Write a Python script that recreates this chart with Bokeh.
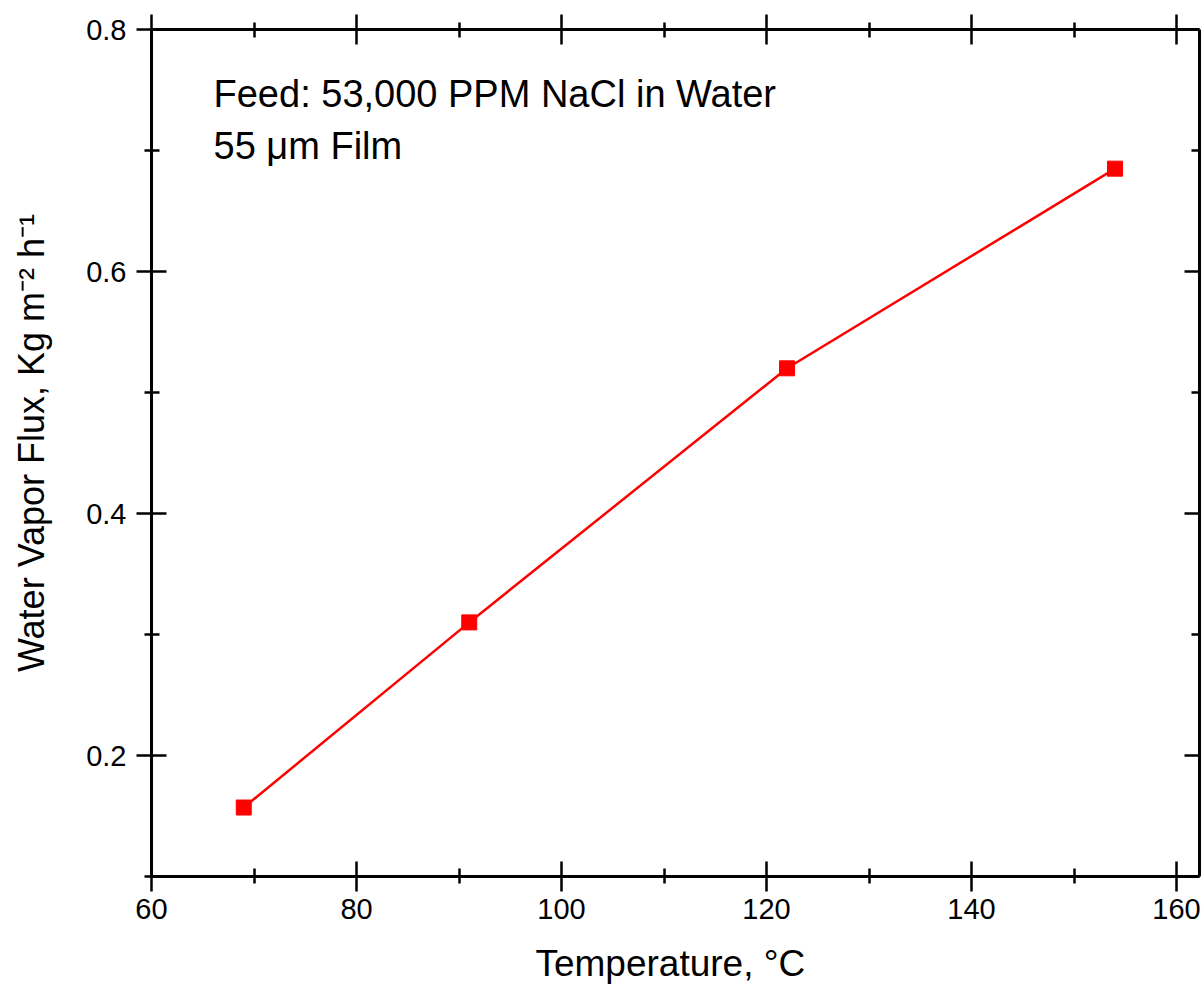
from bokeh.plotting import figure
from bokeh.models import LinearAxis, FixedTicker, CustomJSTickFormatter, Label, Range1d
from bokeh.embed import file_html
from bokeh.resources import INLINE

# Data
temperature = [69, 91, 122, 154]
flux = [0.157, 0.310, 0.520, 0.685]

x_major = [60, 80, 100, 120, 140, 160]
x_minor = [70, 90, 110, 130, 150]
y_major = [0.2, 0.4, 0.6, 0.8]
y_minor = [0.1, 0.3, 0.5, 0.7]

x_label = "Temperature, °C"
y_label = "Water Vapor Flux, Kg m\u207b\u00b2 h\u207b\u00b9"
note1 = "Feed: 53,000 PPM NaCl in Water"
note2 = "55 \u03bcm Film"

FONT = "Liberation Sans"
NBSP = "\u00a0"

p = figure(width=1201, height=993, output_backend="svg", toolbar_location=None,
           x_range=Range1d(60, 162.24), y_range=Range1d(0.1, 0.8),
           min_border_left=151, min_border_top=29, min_border_right=2, min_border_bottom=117,
           x_axis_location=None, y_axis_location=None)
p.grid.visible = False
p.outline_line_color = None
p.background_fill_color = "white"
p.border_fill_color = "white"

blank = CustomJSTickFormatter(code="return ''")


def style(ax, labels=True, tick_out=True):
    ax.axis_line_width = 3
    ax.axis_line_color = "black"
    ax.major_tick_line_width = 2.5
    ax.minor_tick_line_width = 2.5
    ax.major_tick_line_color = "black"
    ax.minor_tick_line_color = "black"
    ax.major_tick_in = 15
    ax.major_tick_out = 15 if tick_out else 0
    ax.minor_tick_in = 8
    ax.minor_tick_out = 7 if tick_out else 0
    ax.major_label_text_font = FONT
    ax.major_label_text_font_size = "29px"
    ax.major_label_text_color = "black"
    if not labels:
        ax.formatter = blank
        ax.major_label_standoff = 0


xt = FixedTicker(ticks=x_major, minor_ticks=x_minor)
yt = FixedTicker(ticks=y_major, minor_ticks=y_minor)

bottom = LinearAxis(ticker=xt, axis_label=x_label + NBSP)
style(bottom)
bottom.major_label_standoff = 7
bottom.axis_label_text_font = FONT
bottom.axis_label_text_font_size = "37px"
bottom.axis_label_text_font_style = "normal"
bottom.axis_label_text_color = "black"
bottom.axis_label_standoff = 21
p.add_layout(bottom, "below")

top = LinearAxis(ticker=xt)
style(top, labels=False)
p.add_layout(top, "above")

left = LinearAxis(ticker=yt, axis_label=NBSP + NBSP + y_label)
style(left)
left.major_label_standoff = 10
left.axis_label_text_font = FONT
left.axis_label_text_font_size = "36px"
left.axis_label_text_font_style = "normal"
left.axis_label_text_color = "black"
left.axis_label_standoff = 31
p.add_layout(left, "left")

right = LinearAxis(ticker=yt)
style(right, labels=False, tick_out=False)
p.add_layout(right, "right")

p.line(temperature, flux, line_color="#ff0000", line_width=2.5)
p.scatter(temperature, flux, marker="square", size=15, fill_color="#ff0000", line_color="#ff0000")

for txt, yy in [(note1, 0.7463), (note2, 0.7041)]:
    p.add_layout(Label(x=66.05, y=yy, text=txt, text_font=FONT, text_font_size="38px",
                       text_color="black", text_baseline="alphabetic", text_align="left"))

open("out.html", "w").write(file_html(p, INLINE))
